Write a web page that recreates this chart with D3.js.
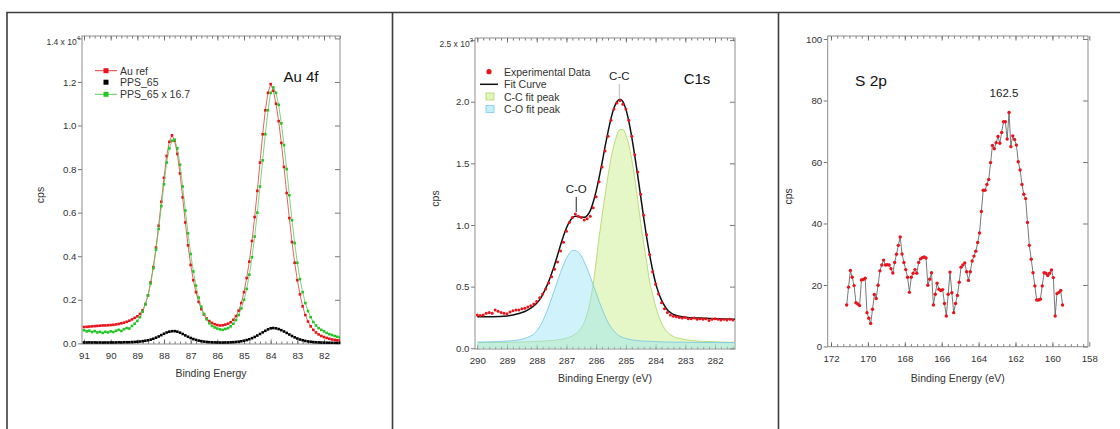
<!DOCTYPE html>
<html><head><meta charset="utf-8">
<script src="https://cdn.jsdelivr.net/npm/d3@7"></script>
<style>body{margin:0;background:#fff}svg{display:block}</style>
</head><body><svg id="c" width="1120" height="429"></svg>
<script>
// ---------------- Panel 1 : Au 4f ----------------
const auEnergy = [91.0,90.9,90.8,90.7,90.6,90.5,90.4,90.3,90.2,90.1,90.0,89.9,89.8,89.7,89.6,89.5,89.4,89.3,89.2,89.1,89.0,88.9,88.8,88.7,88.6,88.5,88.4,88.3,88.2,88.1,88.0,87.9,87.8,87.7,87.6,87.5,87.4,87.3,87.2,87.1,87.0,86.9,86.8,86.7,86.6,86.5,86.4,86.3,86.2,86.1,86.0,85.9,85.8,85.7,85.6,85.5,85.4,85.3,85.2,85.1,85.0,84.9,84.8,84.7,84.6,84.5,84.4,84.3,84.2,84.1,84.0,83.9,83.8,83.7,83.6,83.5,83.4,83.3,83.2,83.1,83.0,82.9,82.8,82.7,82.6,82.5,82.4,82.3,82.2,82.1,82.0,81.9,81.8,81.7,81.6,81.5,81.4];
const auRef = [0.075,0.076,0.077,0.078,0.079,0.080,0.081,0.082,0.082,0.083,0.084,0.085,0.087,0.089,0.092,0.095,0.099,0.104,0.110,0.117,0.124,0.135,0.152,0.180,0.220,0.280,0.350,0.440,0.540,0.650,0.760,0.860,0.925,0.955,0.930,0.870,0.780,0.670,0.555,0.450,0.360,0.290,0.235,0.190,0.157,0.132,0.114,0.102,0.094,0.088,0.084,0.082,0.083,0.086,0.090,0.097,0.108,0.125,0.150,0.185,0.235,0.300,0.375,0.470,0.580,0.700,0.830,0.960,1.070,1.150,1.190,1.160,1.100,1.020,0.920,0.810,0.690,0.575,0.465,0.370,0.290,0.225,0.170,0.130,0.100,0.078,0.062,0.050,0.041,0.034,0.029,0.025,0.021,0.018,0.016,0.014,0.013];
const pps65 = [0.004,0.004,0.0043,0.004,0.0042,0.0038,0.004,0.0037,0.004,0.0038,0.0041,0.0039,0.0043,0.0046,0.0043,0.0049,0.0052,0.0051,0.0058,0.0065,0.0074,0.0085,0.0100,0.0118,0.0140,0.0170,0.0210,0.0260,0.0315,0.0378,0.0440,0.0497,0.0536,0.0557,0.0560,0.0536,0.0491,0.0431,0.0365,0.0302,0.0246,0.0198,0.0159,0.0126,0.0101,0.0081,0.0066,0.0055,0.0048,0.0044,0.0041,0.0038,0.0037,0.0040,0.0042,0.0047,0.0054,0.0064,0.0078,0.0096,0.0120,0.0150,0.0189,0.0237,0.0293,0.0359,0.0431,0.0503,0.0575,0.0641,0.0689,0.0704,0.0689,0.0656,0.0605,0.0545,0.0479,0.0407,0.0338,0.0275,0.0222,0.0177,0.0141,0.0111,0.0089,0.0072,0.0059,0.0049,0.0042,0.0037,0.0033,0.0029,0.0025,0.0023,0.0020,0.0018,0.0016];
const pps65x = [0.060,0.055,0.058,0.052,0.056,0.050,0.053,0.048,0.053,0.050,0.055,0.052,0.058,0.062,0.057,0.065,0.070,0.068,0.080,0.090,0.103,0.120,0.145,0.180,0.220,0.275,0.345,0.430,0.525,0.630,0.730,0.830,0.895,0.930,0.935,0.895,0.820,0.720,0.610,0.505,0.410,0.330,0.265,0.210,0.168,0.135,0.110,0.092,0.080,0.073,0.068,0.064,0.062,0.066,0.070,0.078,0.090,0.107,0.130,0.160,0.200,0.250,0.315,0.395,0.490,0.600,0.720,0.840,0.960,1.070,1.150,1.175,1.150,1.095,1.010,0.910,0.800,0.680,0.565,0.460,0.370,0.295,0.235,0.185,0.148,0.120,0.098,0.082,0.070,0.062,0.055,0.048,0.042,0.038,0.034,0.030,0.027];
const auXTicks = [91,90,89,88,87,86,85,84,83,82];
const auYTicks = [0,0.2,0.4,0.6,0.8,1.0,1.2,1.4];

// ---------------- Panel 2 : C1s ----------------
const cEnergy = [290.0,289.9,289.8,289.7,289.6,289.5,289.4,289.3,289.2,289.1,289.0,288.9,288.8,288.7,288.6,288.5,288.4,288.3,288.2,288.1,288.0,287.9,287.8,287.7,287.6,287.5,287.4,287.3,287.2,287.1,287.0,286.9,286.8,286.7,286.6,286.5,286.4,286.3,286.2,286.1,286.0,285.9,285.8,285.7,285.6,285.5,285.4,285.3,285.2,285.1,285.0,284.9,284.8,284.7,284.6,284.5,284.4,284.3,284.2,284.1,284.0,283.9,283.8,283.7,283.6,283.5,283.4,283.3,283.2,283.1,283.0,282.9,282.8,282.7,282.6,282.5,282.4,282.3,282.2,282.1,282.0,281.9,281.8,281.7,281.6,281.5,281.4];
const cExp = [0.27,0.265,0.27,0.285,0.29,0.285,0.31,0.30,0.29,0.285,0.28,0.295,0.305,0.31,0.31,0.32,0.325,0.335,0.345,0.36,0.38,0.41,0.44,0.48,0.53,0.58,0.64,0.70,0.79,0.86,0.95,1.02,1.06,1.09,1.07,1.06,1.04,1.05,1.07,1.14,1.23,1.35,1.47,1.60,1.72,1.85,1.94,1.99,2.01,1.98,1.94,1.85,1.72,1.57,1.43,1.25,1.08,0.92,0.76,0.62,0.52,0.44,0.37,0.32,0.29,0.27,0.26,0.255,0.25,0.245,0.25,0.24,0.24,0.245,0.235,0.24,0.235,0.24,0.225,0.235,0.24,0.235,0.23,0.235,0.23,0.235,0.23];
const fitEnergy = [290.0,289.5,289.0,288.8,288.6,288.4,288.2,288.0,287.9,287.8,287.7,287.6,287.5,287.4,287.3,287.2,287.1,287.0,286.9,286.8,286.7,286.6,286.5,286.4,286.3,286.2,286.1,286.0,285.9,285.8,285.7,285.6,285.5,285.4,285.3,285.2,285.1,285.0,284.9,284.8,284.7,284.6,284.5,284.4,284.3,284.2,284.1,284.0,283.9,283.8,283.7,283.6,283.5,283.4,283.2,283.0,282.5,282.0,281.33];
const fitCurve = [0.255,0.256,0.262,0.27,0.282,0.298,0.325,0.365,0.395,0.435,0.485,0.54,0.605,0.675,0.755,0.835,0.91,0.975,1.025,1.058,1.07,1.068,1.062,1.062,1.078,1.115,1.185,1.275,1.385,1.505,1.635,1.755,1.865,1.95,2.0,2.02,2.0,1.94,1.84,1.71,1.56,1.40,1.23,1.06,0.90,0.76,0.635,0.53,0.45,0.39,0.345,0.31,0.29,0.275,0.26,0.252,0.245,0.24,0.235];
const peakEnergy = [290.0,289.0,288.6,288.4,288.2,288.1,288.0,287.9,287.8,287.7,287.6,287.5,287.4,287.3,287.2,287.1,287.0,286.9,286.8,286.7,286.6,286.5,286.4,286.3,286.2,286.1,286.0,285.9,285.8,285.7,285.6,285.5,285.4,285.3,285.2,285.1,285.0,284.9,284.8,284.7,284.6,284.5,284.4,284.3,284.2,284.1,284.0,283.9,283.8,283.7,283.6,283.5,283.4,283.1,282.8,282.3,281.33];
const ccPeak = [0.046,0.048,0.050,0.052,0.054,0.055,0.056,0.057,0.058,0.059,0.061,0.063,0.065,0.068,0.072,0.076,0.082,0.090,0.100,0.115,0.135,0.165,0.210,0.280,0.380,0.520,0.700,0.900,1.075,1.240,1.400,1.540,1.650,1.730,1.775,1.775,1.730,1.650,1.530,1.380,1.200,1.020,0.850,0.700,0.540,0.440,0.340,0.265,0.205,0.160,0.130,0.110,0.095,0.075,0.063,0.055,0.048];
const coPeak = [0.050,0.058,0.068,0.080,0.100,0.115,0.140,0.175,0.220,0.275,0.335,0.405,0.475,0.545,0.615,0.675,0.730,0.770,0.792,0.793,0.780,0.750,0.700,0.645,0.580,0.515,0.450,0.380,0.320,0.260,0.210,0.170,0.140,0.115,0.098,0.087,0.079,0.073,0.068,0.065,0.062,0.060,0.058,0.057,0.056,0.055,0.054,0.053,0.052,0.051,0.051,0.050,0.050,0.049,0.048,0.047,0.046];
const cXTicks = [290,289,288,287,286,285,284,283,282];
const cYTicks = [0,0.5,1.0,1.5,2.0,2.5];

// ---------------- Panel 3 : S 2p ----------------
const sEnergy = [171.15,171.05,170.95,170.85,170.75,170.65,170.55,170.45,170.35,170.25,
170.15,170.05,169.95,169.85,169.75,169.65,169.55,169.45,169.35,169.25,
169.15,169.05,168.95,168.85,168.75,168.65,168.55,168.45,168.35,168.25,
168.15,168.05,167.95,167.85,167.75,167.65,167.55,167.45,167.35,167.25,
167.15,167.05,166.95,166.85,166.75,166.65,166.55,166.45,166.35,166.25,
166.15,166.05,165.95,165.85,165.75,165.65,165.55,165.45,165.35,165.25,
165.15,165.05,164.95,164.85,164.75,164.65,164.55,164.45,164.35,164.25,
164.15,164.05,163.95,163.85,163.75,163.65,163.55,163.45,163.35,163.25,
163.15,163.05,162.95,162.85,162.75,162.65,162.55,162.45,162.35,162.25,
162.15,162.05,161.95,161.85,161.75,161.65,161.55,161.45,161.35,161.25,
161.15,161.05,160.95,160.85,160.75,160.65,160.55,160.45,160.35,160.25,
160.15,160.05,159.95,159.85,159.75,159.65,159.55,159.45];
const sCps = [13.5,19.3,24.7,22.5,19.8,14.2,13.8,13.3,21.6,21.8,
22.2,11.0,9.2,7.5,12.1,16.9,15.6,19.9,24.6,26.5,
28.1,26.5,26.6,26.5,25.3,23.9,27.3,30.0,32.9,35.6,
30.1,27.3,25.0,22.5,17.6,22.5,23.8,25.0,23.8,27.3,
28.5,28.9,29.1,28.8,19.9,21.9,24.0,13.5,17.0,20.6,
18.6,18.2,18.5,14.0,9.9,17.0,24.2,17.5,11.0,14.0,
16.6,20.9,25.8,26.5,27.2,24.3,21.5,24.3,27.8,29.4,
31.0,33.8,36.9,43.9,50.8,50.8,52.7,54.3,59.8,65.4,
64.3,66.3,68.3,66.1,69.6,73.1,73.1,67.5,76.1,65.0,
68.5,67.3,65.5,60.1,57.4,52.7,49.5,48.1,40.3,32.9,
28.4,24.0,19.7,15.1,15.1,15.4,19.7,24.0,23.8,23.1,
23.8,24.9,22.4,9.9,17.2,17.6,18.2,13.5];
const sXTicks = [172,170,168,166,164,162,160,158];
const sYTicks = [0,20,40,60,80,100];

// ---------------- drawing ----------------
const FONT = '"Liberation Sans", Arial, Helvetica, sans-serif';
const svg = d3.select('#c');
const RED = '#e8141c', GREEN = '#26c526';

// outer table lines
svg.append('path').attr('d','M7,429V12.5H1120M392.5,12.5V429M778.5,12.5V429')
  .attr('fill','none').attr('stroke','#3c3c3c').attr('stroke-width',1.6);

function txt(g, x, y, s, size, anchor, color){
  return g.append('text').attr('x',x).attr('y',y).text(s)
    .attr('font-family',FONT).attr('font-size',size+'px')
    .attr('text-anchor',anchor||'start').attr('dominant-baseline','central')
    .attr('fill',color||'#222');
}

function makePanel(o){
  const x = d3.scaleLinear().domain(o.xDom).range([o.l,o.r]);
  const y = d3.scaleLinear().domain(o.yDom).range([o.b,o.t]);
  const g = svg.append('g');
  svg.append('clipPath').attr('id','clip'+o.id).append('rect')
    .attr('x',o.l).attr('y',o.t).attr('width',o.r-o.l).attr('height',o.b-o.t);
  const st = s => {
    s.select('.domain').remove();
    s.selectAll('line').attr('stroke','#555').attr('stroke-width',0.8);
    s.selectAll('text').attr('fill','#333').attr('font-family',FONT).attr('font-size','9.7px');
  };
  const xs = d3.extent(o.xDom);
  const minor = d3.range(Math.ceil(xs[0]/o.minorStep-1e-6), Math.floor(xs[1]/o.minorStep+1e-6)+1).map(k=>k*o.minorStep);
  g.append('g').attr('transform',`translate(0,${o.b})`)
    .call(d3.axisBottom(x).tickValues(minor).tickSize(-2.5).tickFormat('')).call(st);
  g.append('g').attr('transform',`translate(0,${o.t})`)
    .call(d3.axisTop(x).tickValues(minor).tickSize(-2.5).tickFormat('')).call(st);
  g.append('g').attr('transform',`translate(0,${o.t})`)
    .call(d3.axisTop(x).tickValues(o.xTicks).tickSize(-4.5).tickFormat('')).call(st);
  g.append('g').attr('transform',`translate(0,${o.b})`)
    .call(d3.axisBottom(x).tickValues(o.xTicks).tickSize(-4.5).tickFormat(d3.format('d'))).call(st)
    .call(s=>s.selectAll('text').attr('y',11.5).attr('dy','0.35em'));
  g.append('g').attr('transform',`translate(${o.l},0)`)
    .call(d3.axisLeft(y).tickValues(o.yTicks).tickSize(4).tickPadding(1.5).tickFormat(o.yFmt)).call(st);
  g.append('g').attr('transform',`translate(${o.r},0)`)
    .call(d3.axisRight(y).tickValues(o.yTicks).tickSize(-5).tickFormat('')).call(st);
  g.append('rect').attr('x',o.l).attr('y',o.t).attr('width',o.r-o.l).attr('height',o.b-o.t)
    .attr('fill','none').attr('stroke','#8d8d8d').attr('stroke-width',1);
  txt(g,(o.l+o.r)/2,o.xTitleY,o.xTitle,10.5,'middle','#333');
  txt(g,0,0,'cps',10.5,'middle','#333').attr('transform',`translate(${o.cpsX},${(o.t+o.b)/2+5}) rotate(-90)`);
  const inner = svg.append('g').attr('clip-path',`url(#clip${o.id})`);
  return {x,y,g,inner};
}

function expLabel(g, xr, yc, mant, exp){
  const t = g.append('text').attr('x',xr).attr('y',yc).attr('text-anchor','end')
    .attr('dominant-baseline','central').attr('font-family',FONT).attr('font-size','8.5px').attr('fill','#333');
  t.append('tspan').text(mant+' x 10');
  t.append('tspan').text(exp).attr('font-size','6px').attr('dy','-4');
}

// ---- Panel 1 ----
{
  const P = makePanel({id:1,l:82,r:340,t:36,b:344,xDom:[91.075,81.4],yDom:[-0.003,1.411],
    xTicks:auXTicks,yTicks:auYTicks,minorStep:0.2,
    yFmt:d=>d===1.4?'':d3.format('.1f')(d),xTitle:'Binding Energy',xTitleY:373,cpsX:40});
  expLabel(P.g,80,P.y(1.4)+4,'1.4','4');
  const line = d3.line().x(d=>P.x(d[0])).y(d=>P.y(d[1]));
  const series = [
    {v:auRef,c:RED,lc:'#e03a3a',line:true},
    {v:pps65,c:'#000',line:false},
    {v:pps65x,c:GREEN,lc:'#59cc59',line:true}
  ];
  series.forEach(s=>{
    const pts = d3.zip(auEnergy,s.v);
    if(s.line) P.inner.append('path').attr('d',line(pts)).attr('fill','none').attr('stroke',s.lc).attr('stroke-width',0.8);
    P.inner.selectAll(null).data(pts).join('rect')
      .attr('x',d=>P.x(d[0])-1.3).attr('y',d=>P.y(d[1])-1.3).attr('width',2.6).attr('height',2.6).attr('fill',s.c);
  });
  txt(P.g,301,76.5,'Au 4f',15,'middle','#111');
  const leg = [['Au ref',RED,'#e03a3a',70.7],['PPS_65','#000',null,82.2],['PPS_65 x 16.7',GREEN,'#59cc59',94.3]];
  leg.forEach(([name,c,lc,yy])=>{
    if(lc) P.g.append('line').attr('x1',95).attr('x2',117).attr('y1',yy).attr('y2',yy).attr('stroke',lc).attr('stroke-width',1);
    P.g.append('rect').attr('x',103.5).attr('y',yy-2.5).attr('width',5).attr('height',5).attr('fill',c);
    txt(P.g,120,yy,name,10.5,'start','#333');
  });
}

// ---- Panel 2 ----
{
  const P = makePanel({id:2,l:475,r:735,t:38,b:349,xDom:[290.077,281.327],yDom:[-0.006,2.517],
    xTicks:cXTicks,yTicks:cYTicks,minorStep:0.2,
    yFmt:d=>d===2.5?'':d3.format('.1f')(d),xTitle:'Binding Energy (eV)',xTitleY:378,cpsX:435});
  expLabel(P.g,473,P.y(2.5)+3.5,'2.5','3');
  const area = d3.area().x(d=>P.x(d[0])).y0(P.y(0)).y1(d=>P.y(d[1])).curve(d3.curveMonotoneX);
  const ln = d3.line().x(d=>P.x(d[0])).y(d=>P.y(d[1])).curve(d3.curveMonotoneX);
  const cc = d3.zip(peakEnergy,ccPeak), co = d3.zip(peakEnergy,coPeak);
  P.inner.append('path').attr('d',area(cc)).attr('fill','rgba(198,238,128,0.45)');
  P.inner.append('path').attr('d',ln(cc)).attr('fill','none').attr('stroke','#b4d86a').attr('stroke-width',0.9);
  P.inner.append('path').attr('d',area(co)).attr('fill','rgba(150,226,246,0.45)');
  P.inner.append('path').attr('d',ln(co)).attr('fill','none').attr('stroke','#7ccbe3').attr('stroke-width',0.9);
  P.inner.append('path').attr('d',ln(d3.zip(fitEnergy,fitCurve))).attr('fill','none').attr('stroke','#111').attr('stroke-width',1.5);
  P.inner.selectAll(null).data(d3.zip(cEnergy,cExp)).join('circle')
    .attr('cx',d=>P.x(d[0])).attr('cy',d=>P.y(d[1])).attr('r',1.5).attr('fill',RED);
  P.g.append('line').attr('x1',P.x(285.22)).attr('x2',P.x(285.22)).attr('y1',84).attr('y2',98).attr('stroke','#bbb').attr('stroke-width',1);
  txt(P.g,P.x(285.22),76,'C-C',11.5,'middle','#222');
  P.g.append('line').attr('x1',P.x(286.67)).attr('x2',P.x(286.67)).attr('y1',197).attr('y2',212).attr('stroke','#222').attr('stroke-width',1);
  txt(P.g,P.x(286.67),189,'C-O',11.5,'middle','#222');
  txt(P.g,697,78.5,'C1s',15,'middle','#111');
  P.g.append('circle').attr('cx',489).attr('cy',71.7).attr('r',2.6).attr('fill',RED);
  txt(P.g,504,72,'Experimental Data',10.5,'start','#333');
  P.g.append('line').attr('x1',480).attr('x2',498).attr('y1',84.3).attr('y2',84.3).attr('stroke','#111').attr('stroke-width',1.5);
  txt(P.g,504,84.3,'Fit Curve',10.5,'start','#333');
  P.g.append('rect').attr('x',486).attr('y',93).attr('width',8).attr('height',7).attr('fill','rgba(198,238,128,0.55)').attr('stroke','#b4d86a').attr('stroke-width',0.8);
  txt(P.g,504,96.7,'C-C fit peak',10.5,'start','#333');
  P.g.append('rect').attr('x',486).attr('y',105.5).attr('width',8).attr('height',7).attr('fill','rgba(150,226,246,0.55)').attr('stroke','#7ccbe3').attr('stroke-width',0.8);
  txt(P.g,504,109,'C-O fit peak',10.5,'start','#333');
}

// ---- Panel 3 ----
{
  const P = makePanel({id:3,l:827.7,r:1088,t:36,b:346.7,xDom:[172.18,158.07],yDom:[-0.07,100.98],
    xTicks:sXTicks,yTicks:sYTicks,minorStep:1/3,
    yFmt:d3.format('d'),xTitle:'Binding Energy (eV)',xTitleY:378.3,cpsX:788});
  const pts = d3.zip(sEnergy,sCps);
  P.inner.append('path').attr('d',d3.line().x(d=>P.x(d[0])).y(d=>P.y(d[1]))(pts))
    .attr('fill','none').attr('stroke','#555').attr('stroke-width',0.8);
  P.inner.selectAll(null).data(pts).join('circle')
    .attr('cx',d=>P.x(d[0])).attr('cy',d=>P.y(d[1])).attr('r',1.7).attr('fill',RED);
  txt(P.g,871,80,'S 2p',15.5,'middle','#111');
  txt(P.g,1004,92.7,'162.5',11.5,'middle','#222');
}
</script></body></html>
